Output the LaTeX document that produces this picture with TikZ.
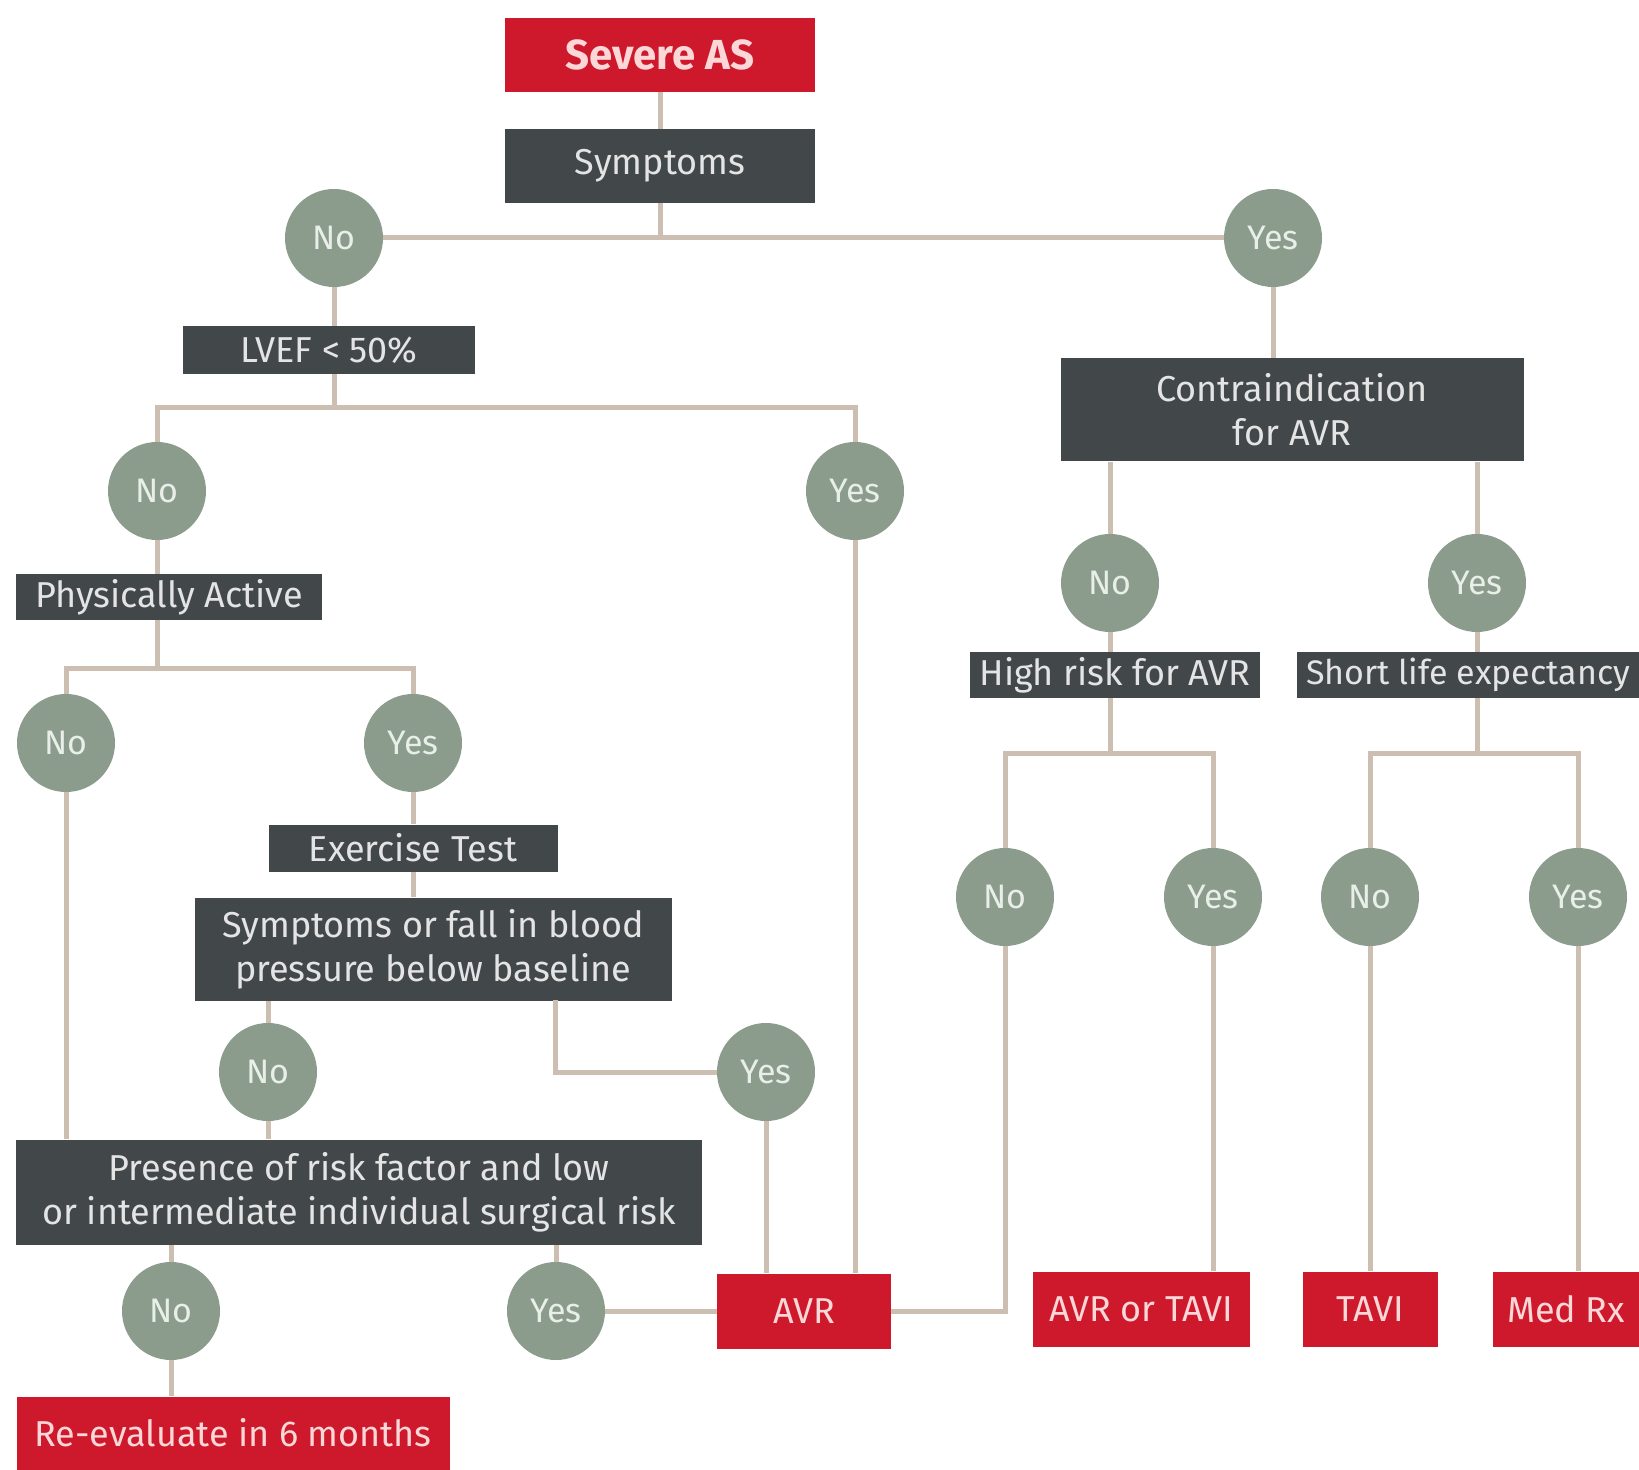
\documentclass[tikz,border=0pt]{standalone}
\usepackage{fontspec}
\setmainfont{Fira Sans}
\definecolor{asred}{RGB}{206,24,44}
\definecolor{asdark}{RGB}{66,72,74}
\definecolor{asgreen}{RGB}{139,156,140}
\definecolor{asline}{RGB}{205,190,178}
\definecolor{redtext}{RGB}{252,215,215}
\definecolor{darktext}{RGB}{228,228,228}
\definecolor{greentext}{RGB}{232,238,232}
\begin{document}
\begin{tikzpicture}[x=0.5pt,y=-0.5pt]
    \tikzstyle{box}=[inner sep=0pt,align=center,font=\fontsize{18}{22}\selectfont]
    \tikzstyle{outcome}=[box,fill=asred,text=redtext]
    \tikzstyle{question}=[box,fill=asdark,text=darktext]
    \tikzstyle{answer}=[circle,fill=asgreen,text=greentext,minimum size=49pt,inner sep=0pt,font=\fontsize{17}{20}\selectfont]
    \tikzstyle{link}=[draw=asline,line width=2.5pt]

    \useasboundingbox (0,0) rectangle (1639,1470);

    % top of the tree
    \node[outcome,minimum width=155pt,minimum height=37pt,font=\fontsize{21}{24}\selectfont\bfseries] at (660,55) (severe) {Severe AS};
    \node[question,minimum width=155pt,minimum height=37pt] at (660,166) (sym) {Symptoms};
    \node[answer] at (334,238) (no1) {No};
    \node[answer] at (1273,238) (yes1) {Yes};

    % no symptoms
    \node[question,minimum width=146pt,minimum height=24pt] at (329,350) (lvef) {LVEF < 50\%};
    \node[answer] at (157,491) (no2) {No};
    \node[answer] at (855,491) (yes2) {Yes};
    \node[question,minimum width=153pt,minimum height=23pt] at (169,597) (active) {Physically Active};
    \node[answer] at (66,743) (no3) {No};
    \node[answer] at (413,743) (yes3) {Yes};
    \node[question,minimum width=144.5pt,minimum height=23.5pt] at (413,848) (extest) {Exercise Test};
    \node[question,minimum width=238.5pt,minimum height=51.5pt] at (433,949) (fall) {Symptoms or fall in blood\\pressure below baseline};
    \node[answer] at (268,1072) (no4) {No};
    \node[answer] at (766,1072) (yes4) {Yes};
    \node[question,minimum width=343pt,minimum height=52.5pt] at (359,1192) (risk) {Presence of risk factor and low\\or intermediate individual surgical risk};
    \node[answer] at (171,1311) (no5) {No};
    \node[answer] at (556,1311) (yes5) {Yes};
    \node[outcome,minimum width=216.5pt,minimum height=36.5pt] at (233,1433) (reeval) {Re-evaluate in 6 months};
    \node[outcome,minimum width=87pt,minimum height=37.5pt] at (804,1311) (avr) {AVR};

    % symptoms
    \node[question,minimum width=231.5pt,minimum height=51.5pt] at (1292,410) (contra) {Contraindication\\for AVR};
    \node[answer] at (1110,583) (no6) {No};
    \node[answer] at (1477,583) (yes6) {Yes};
    \node[question,minimum width=145pt,minimum height=23pt] at (1115,675) (highrisk) {High risk for AVR};
    \node[question,minimum width=171.5pt,minimum height=23pt,font=\fontsize{17}{20}\selectfont] at (1468,675) (shortlife) {Short life expectancy};
    \node[answer] at (1005,897) (no7) {No};
    \node[answer] at (1213,897) (yes7) {Yes};
    \node[answer] at (1370,897) (no8) {No};
    \node[answer] at (1578,897) (yes8) {Yes};
    \node[outcome,minimum width=108.5pt,minimum height=37.5pt] at (1141,1309) (avrtavi) {AVR or TAVI};
    \node[outcome,minimum width=67.5pt,minimum height=37.5pt] at (1370,1309) (tavi) {TAVI};
    \node[outcome,minimum width=73pt,minimum height=37.5pt] at (1566,1309) (medrx) {Med Rx};

    \coordinate (lvefbar) at (334,408);
    \coordinate (activebar) at (157,669);
    \coordinate (falldrop) at (555,1000);
    \coordinate (hrbar) at (1110,753);
    \coordinate (slbar) at (1477,753);

    \draw[link] (severe) -- (sym);
    \draw[link] (sym) -- (sym |- no1);
    \draw[link] (no1) -- (yes1);
    \draw[link] (no1) -- (no1 |- lvef.north);
    \draw[link] (lvefbar |- lvef.south) -- (lvefbar);
    \draw[link] (no2) |- (lvefbar) -| (yes2);
    \draw[link] (no2) -- (no2 |- active.north);
    \draw[link] (no2 |- active.south) -- (activebar);
    \draw[link] (no3) |- (activebar) -| (yes3);
    \draw[link] (no3) -- (no3 |- risk.north);
    \draw[link] (yes3) -- (yes3 |- extest.north);
    \draw[link] (extest) -- (extest |- fall.north);
    \draw[link] (no4) -- (no4 |- fall.south);
    \draw[link] (no4) -- (no4 |- risk.north);
    \draw[link] (falldrop) |- (yes4);
    \draw[link] (yes4) -- (yes4 |- avr.north);
    \draw[link] (yes2) -- (yes2 |- avr.north);
    \draw[link] (no5) -- (no5 |- risk.south);
    \draw[link] (no5) -- (no5 |- reeval.north);
    \draw[link] (yes5) -- (yes5 |- risk.south);
    \draw[link] (yes5) -- (avr);
    \draw[link] (avr) -| (no7);
    \draw[link] (yes1) -- (yes1 |- contra.north);
    \draw[link] (no6) -- (no6 |- contra.south);
    \draw[link] (yes6) -- (yes6 |- contra.south);
    \draw[link] (no6) -- (no6 |- highrisk.north);
    \draw[link] (no6 |- highrisk.south) -- (hrbar);
    \draw[link] (no7) |- (hrbar) -| (yes7);
    \draw[link] (yes6) -- (yes6 |- shortlife.north);
    \draw[link] (yes6 |- shortlife.south) -- (slbar);
    \draw[link] (no8) |- (slbar) -| (yes8);
    \draw[link] (yes7) -- (yes7 |- avrtavi.north);
    \draw[link] (no8) -- (tavi);
    \draw[link] (yes8) -- (yes8 |- medrx.north);
\end{tikzpicture}
\end{document}
